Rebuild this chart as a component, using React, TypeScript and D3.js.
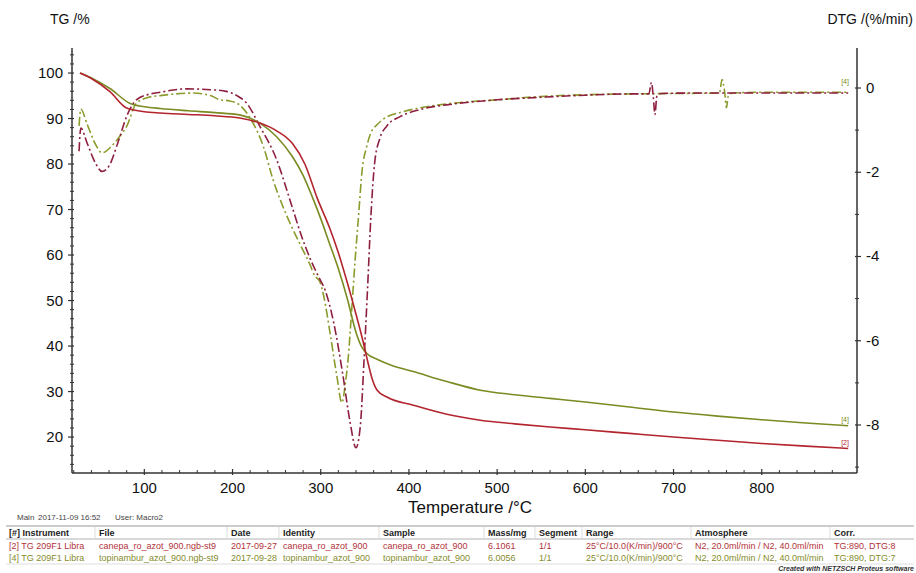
import React from "react";
import * as d3 from "d3";

// TG curves [temperature °C, mass %]
const tgCanepa: [number, number][] = [
  [27, 100], [40, 98.8], [61, 95.9], [80, 92.3], [100, 91.5], [118, 91.2], [150, 90.9],
  [180, 90.6], [208, 90.1], [231, 89], [250, 87.3], [268, 84.5], [282, 80], [296, 72.5],
  [310, 66], [320, 60.5], [330, 54], [340, 47], [348, 41], [354, 36], [358, 33], [364, 30.3],
  [375, 28.8], [405, 27], [443, 25], [481, 23.7], [520, 22.9], [560, 22.2], [600, 21.6],
  [650, 20.8], [700, 20.0], [750, 19.3], [800, 18.6], [850, 18], [898, 17.5],
];
const tgTopinambur: [number, number][] = [
  [27, 100], [40, 98.9], [61, 96.6], [84, 93.3], [100, 92.6], [118, 92.2], [150, 91.7],
  [180, 91.3], [208, 90.8], [231, 89], [250, 86], [268, 81.6], [280, 77.5], [291, 72.5],
  [300, 68], [310, 62.5], [320, 57], [330, 50.5], [340, 43], [346, 40], [352, 38.4],
  [365, 37], [380, 35.8], [405, 34.4], [443, 32.2], [481, 30.3], [520, 29.3], [560, 28.5],
  [600, 27.7], [650, 26.6], [700, 25.5], [750, 24.6], [800, 23.8], [850, 23.1], [898, 22.5],
];

// DTG curves [temperature °C, %/min]
const dtgCanepa: [number, number][] = [
  [26, -1.5], [28, -0.95], [35, -1.3], [45, -1.8], [52, -1.98], [60, -1.85], [70, -1.3],
  [80, -0.67], [91, -0.28], [105, -0.15], [118, -0.1], [148, -0.02], [175, -0.04],
  [193, -0.08], [205, -0.18], [216, -0.36], [231, -0.91], [250, -1.7], [265, -2.65],
  [278, -3.5], [288, -4.05], [298, -4.5], [305, -4.8], [315, -5.6], [325, -6.8], [333, -7.9],
  [340, -8.54], [345, -8.0], [349, -6.5], [353, -4.8], [357, -3.0], [361, -1.8], [367, -1.2],
  [375, -0.9], [390, -0.68], [415, -0.5], [450, -0.38], [500, -0.28], [550, -0.22],
  [600, -0.17], [650, -0.14], [672, -0.14], [675, 0.13], [677, -0.2], [679, -0.63],
  [681, -0.2], [686, -0.13], [720, -0.12], [800, -0.12], [850, -0.12], [898, -0.12],
];
const dtgTopinambur: [number, number][] = [
  [26, -0.9], [28, -0.5], [35, -0.85], [45, -1.35], [52, -1.54], [62, -1.4], [72, -1.15],
  [80, -0.91], [91, -0.36], [105, -0.22], [118, -0.18], [155, -0.12], [175, -0.18],
  [186, -0.28], [195, -0.3], [205, -0.36], [221, -0.75], [235, -1.39], [246, -2.18],
  [254, -2.65], [265, -3.2], [277, -3.73], [288, -4.2], [293, -4.45], [299, -4.6],
  [304, -5.0], [310, -5.74], [318, -6.8], [324, -7.47], [328, -7.0], [331, -6.45],
  [335, -5.3], [339, -4.08], [343, -3.0], [347, -1.94], [352, -1.4], [356, -1.11],
  [365, -0.85], [373, -0.71], [390, -0.58], [413, -0.47], [450, -0.36], [500, -0.28],
  [550, -0.2], [600, -0.16], [700, -0.13], [752, -0.12], [755, 0.2], [758, -0.1],
  [760, -0.47], [762, -0.2], [767, -0.12], [800, -0.1], [850, -0.1], [898, -0.1],
];

const xTicks = [100, 200, 300, 400, 500, 600, 700, 800];
const tgTicks = [20, 30, 40, 50, 60, 70, 80, 90, 100];
const dtgTicks = [0, -2, -4, -6, -8];

const infoLine = ["Main", "2017-11-09 16:52", "User: Macro2"];
const tableHeader = ["[#] Instrument", "File", "Date", "Identity", "Sample", "Mass/mg", "Segment", "Range", "Atmosphere", "Corr."];
const rowCanepa = ["[2] TG 209F1 Libra", "canepa_ro_azot_900.ngb-st9", "2017-09-27", "canepa_ro_azot_900", "canepa_ro_azot_900", "6.1061", "1/1", "25°C/10.0(K/min)/900°C", "N2, 20.0ml/min / N2, 40.0ml/min", "TG:890, DTG:8"];
const rowTopinambur = ["[4] TG 209F1 Libra", "topinambur_azot_900.ngb-st9", "2017-09-28", "topinambur_azot_900", "topinambur_azot_900", "6.0056", "1/1", "25°C/10.0(K/min)/900°C", "N2, 20.0ml/min / N2, 40.0ml/min", "TG:890, DTG:7"];
const colX = [9, 99, 231, 283, 383, 488, 539, 586, 695, 834];
const infoX = [17, 38, 115];

const RED = "#b3242e";
const GREEN = "#7b8b22";
const RED_DTG = "#8e1f3e";
const GREEN_DTG = "#8c9a2c";

export default function App() {
  const L = 72, R = 857, T = 48, B = 473;
  const x = d3.scaleLinear().domain([18, 908]).range([L, R]);
  const yTG = d3.scaleLinear().domain([12.1, 105.5]).range([B, T]);
  const yDTG = d3.scaleLinear().domain([-9.14, 0.95]).range([B, T]);

  const tgLine = d3.line<[number, number]>().x(d => x(d[0])).y(d => yTG(d[1])).curve(d3.curveMonotoneX);
  const dtgLine = d3.line<[number, number]>().x(d => x(d[0])).y(d => yDTG(d[1])).curve(d3.curveMonotoneX);

  const xMinor = d3.range(20, 901, 20).filter(v => v % 100 !== 0);
  const tgMinor = d3.range(14, 105, 2).filter(v => v % 10 !== 0);
  const dtgMinor = [-9, -7, -5, -3, -1];

  const font = "Liberation Sans, Arial, sans-serif";
  const axisColor = "#333";
  const dash = "9,3,2,3";

  return (
    <svg width={916} height={573} style={{ position: "absolute", left: 0, top: 0, background: "#fff" }} fontFamily={font}>
      {/* curves */}
      <path d={dtgLine(dtgTopinambur) || ""} fill="none" stroke={GREEN_DTG} strokeWidth={1.6} strokeDasharray={dash} />
      <path d={dtgLine(dtgCanepa) || ""} fill="none" stroke={RED_DTG} strokeWidth={1.6} strokeDasharray={dash} />
      <path d={tgLine(tgTopinambur) || ""} fill="none" stroke={GREEN} strokeWidth={1.6} />
      <path d={tgLine(tgCanepa) || ""} fill="none" stroke={RED} strokeWidth={1.6} />

      {/* curve labels */}
      <text x={x(898) - 7} y={yDTG(0.1)} fontSize={7} fill={GREEN}>[4]</text>
      <text x={x(898) - 7} y={yTG(23.3)} fontSize={7} fill={GREEN}>[4]</text>
      <text x={x(898) - 7} y={yTG(18.3)} fontSize={7} fill={RED}>[2]</text>

      {/* axes */}
      <line x1={L} x2={L} y1={T} y2={B} stroke={axisColor} strokeWidth={1.5} />
      <line x1={R} x2={R} y1={T} y2={B} stroke={axisColor} strokeWidth={1.5} />
      <line x1={L} x2={R} y1={B} y2={B} stroke={axisColor} strokeWidth={1.5} />

      {xMinor.map(v => (
        <line key={"xm" + v} x1={x(v)} x2={x(v)} y1={B - 3} y2={B} stroke={axisColor} strokeWidth={1} />
      ))}
      {xTicks.map(v => (
        <g key={"x" + v}>
          <line x1={x(v)} x2={x(v)} y1={B - 4} y2={B + 2} stroke={axisColor} strokeWidth={1.2} />
          <text x={x(v)} y={493} fontSize={15} textAnchor="middle" fill="#111">{v}</text>
        </g>
      ))}

      {tgMinor.map(v => (
        <line key={"tm" + v} x1={L - 2} x2={L + 2} y1={yTG(v)} y2={yTG(v)} stroke={axisColor} strokeWidth={1} />
      ))}
      {tgTicks.map(v => (
        <g key={"t" + v}>
          <line x1={L - 4} x2={L + 2} y1={yTG(v)} y2={yTG(v)} stroke={axisColor} strokeWidth={1.2} />
          <text x={L - 9} y={yTG(v) + 5} fontSize={15} textAnchor="end" fill="#111">{v}</text>
        </g>
      ))}

      {dtgMinor.map(v => (
        <line key={"dm" + v} x1={R - 2} x2={R + 2} y1={yDTG(v)} y2={yDTG(v)} stroke={axisColor} strokeWidth={1} />
      ))}
      {dtgTicks.map(v => (
        <g key={"d" + v}>
          <line x1={R - 2} x2={R + 4} y1={yDTG(v)} y2={yDTG(v)} stroke={axisColor} strokeWidth={1.2} />
          <text x={R + 9} y={yDTG(v) + 5} fontSize={15} fill="#111">{v}</text>
        </g>
      ))}

      {/* titles */}
      <text x={50} y={24} fontSize={14} fill="#111">TG /%</text>
      <text x={913} y={24} fontSize={14} textAnchor="end" fill="#111">DTG /(%/min)</text>
      <text x={470} y={513} fontSize={17} textAnchor="middle" fill="#111">Temperature /°C</text>

      {/* info + table */}
      {infoLine.map((s, i) => (
        <text key={"info" + i} x={infoX[i]} y={520} fontSize={8} fill="#444">{s}</text>
      ))}
      <line x1={6} x2={914} y1={526} y2={526} stroke="#ccc" strokeWidth={2} />
      <line x1={6} x2={914} y1={539} y2={539} stroke="#ccc" strokeWidth={1.5} />
      {colX.slice(1).map(cx => (
        <line key={"sep" + cx} x1={cx - 4} x2={cx - 4} y1={527} y2={538} stroke="#ddd" strokeWidth={1} />
      ))}
      {tableHeader.map((h, i) => (
        <text key={"h" + i} x={colX[i]} y={536} fontSize={9} fontWeight="bold" fill="#222">{h}</text>
      ))}
      {rowCanepa.map((c, i) => (
        <text key={"r2" + i} x={colX[i]} y={549} fontSize={9} fill="#b2333a">{c}</text>
      ))}
      {rowTopinambur.map((c, i) => (
        <text key={"r4" + i} x={colX[i]} y={561} fontSize={9} fill="#858c2c">{c}</text>
      ))}
      <line x1={6} x2={914} y1={564} y2={564} stroke="#ddd" strokeWidth={1} />
      <text x={914} y={571} fontSize={7} fontStyle="italic" fontWeight="bold" textAnchor="end" fill="#333">Created with NETZSCH Proteus software</text>
    </svg>
  );
}
